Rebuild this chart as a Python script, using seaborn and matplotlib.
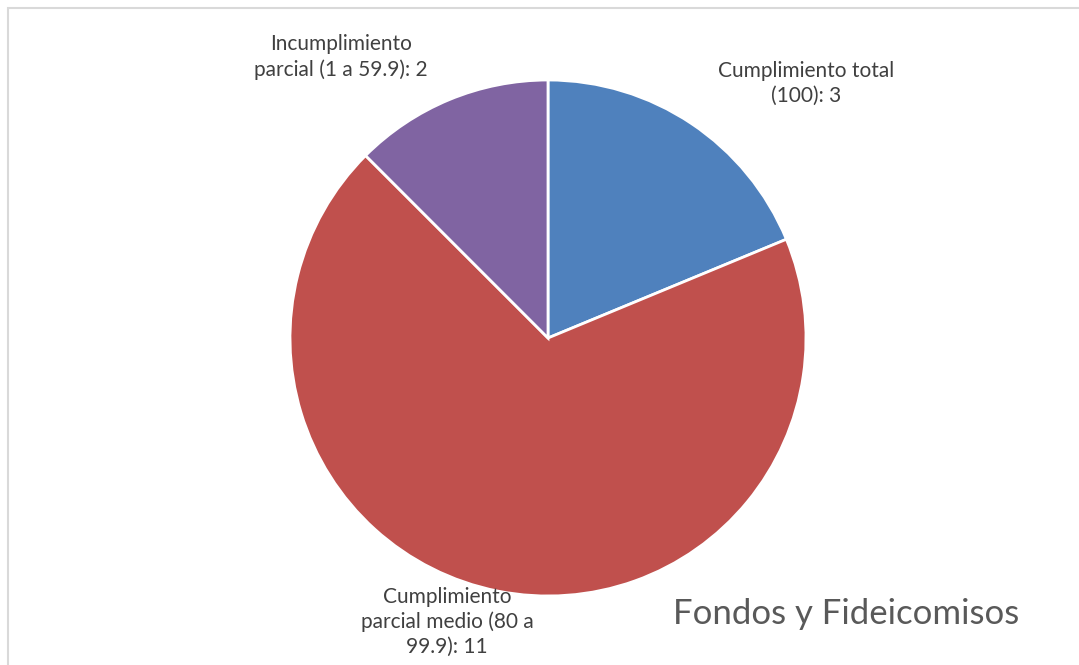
import matplotlib
matplotlib.use("Agg")
import matplotlib.pyplot as plt
import matplotlib.patches as mpatches
import seaborn as sns

# Data
categorias = ["Cumplimiento total\n(100): 3",
              "Cumplimiento\nparcial medio (80 a\n99.9): 11",
              "Incumplimiento\nparcial (1 a 59.9): 2"]
valores = [3, 11, 2]
colores = ["#4f81bd", "#c0504d", "#8064a2"]
titulo = "Fondos y Fideicomisos"

sns.set_theme(style="white")
plt.rcParams['font.family'] = ['Lato', 'DejaVu Sans']

W, H = 1079, 665
fig = plt.figure(figsize=(W / 100, H / 100), dpi=100)
ax = fig.add_axes([0, 0, 1, 1])

ax.pie(valores, colors=colores, startangle=90, counterclock=False,
       center=(548, H - 338), radius=258,
       wedgeprops=dict(edgecolor="white", linewidth=2))

# pie() resets the limits, so set them afterwards
ax.set_xlim(0, W)
ax.set_ylim(0, H)
ax.set_aspect("equal")
ax.axis("off")

# chart area border
ax.add_patch(mpatches.Rectangle((8, -20), W + 20, H - 8 + 20, fill=False,
                                edgecolor="#d9d9d9", linewidth=1.5))

# labels
label_pos = [(806, H - 83), (447, H - 622), (341, H - 57)]
for txt, (x, y) in zip(categorias, label_pos):
    ax.text(x, y, txt, ha="center", va="center", fontsize=15,
            color="#404040", linespacing=1.3)

ax.text(846, H - 614, titulo, ha="center", va="center", fontsize=25,
        color="#595959")

fig.savefig("out.png", dpi=100)
